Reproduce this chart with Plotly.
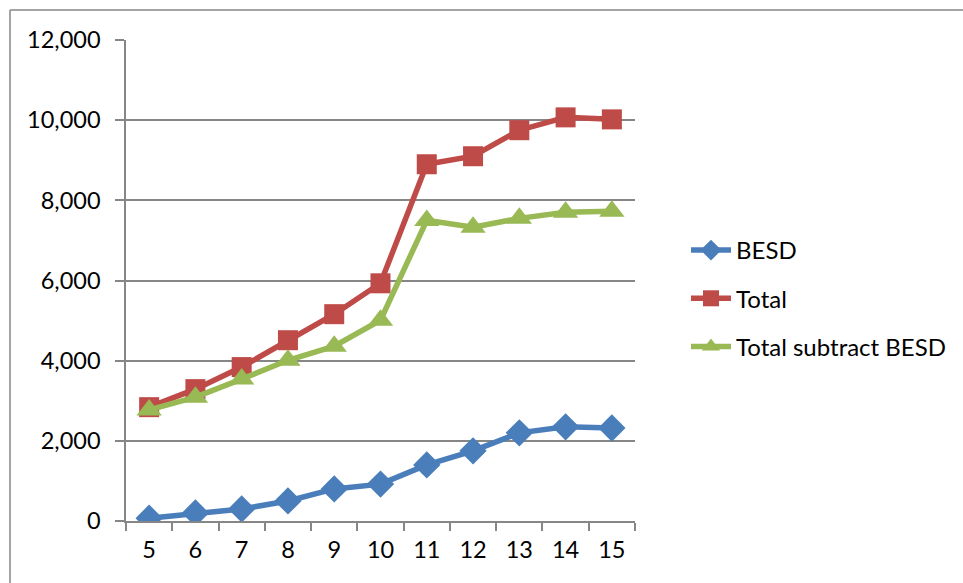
import plotly.graph_objects as go

categories = ["5", "6", "7", "8", "9", "10", "11", "12", "13", "14", "15"]
besd = [70, 200, 300, 500, 800, 920, 1400, 1750, 2200, 2350, 2320]
total = [2840, 3290, 3840, 4510, 5160, 5930, 8900, 9100, 9750, 10070, 10020]
total_sub = [2770, 3090, 3540, 4010, 4360, 5010, 7500, 7330, 7550, 7700, 7730]
y_ticks = [0, 2000, 4000, 6000, 8000, 10000, 12000]

FONT = "Lato"
fig = go.Figure()
fig.add_trace(go.Scatter(x=categories, y=besd, name="BESD", mode="lines+markers",
                         legendgroup="a",
                         line=dict(color="#4A7EBB", width=5.5),
                         marker=dict(symbol="diamond", size=21, color="#4A7EBB")))
fig.add_trace(go.Scatter(x=categories, y=total, name="Total", mode="lines+markers",
                         legendgroup="b",
                         line=dict(color="#BE4B48", width=5.5),
                         marker=dict(symbol="square", size=20, color="#BE4B48")))
fig.add_trace(go.Scatter(x=categories, y=total_sub, name="Total subtract BESD", mode="lines+markers",
                         legendgroup="c",
                         line=dict(color="#98B954", width=5.5),
                         marker=dict(symbol="triangle-up", size=22, color="#98B954")))

W, H = 963, 583
L, R, T, B = 126, 328, 40, 62
pw, ph = W - L - R, H - T - B

def px(x):
    return (x - L) / pw

def py(y):
    return (H - B - y) / ph

fig.update_layout(
    width=W, height=H,
    margin=dict(l=L, r=R, t=T, b=B),
    paper_bgcolor="white", plot_bgcolor="white",
    font=dict(family=FONT, size=23.5, color="#000000"),
    showlegend=True,
    legend=dict(x=px(686), y=py(228), xanchor="left", yanchor="top",
                font=dict(family=FONT, size=24), tracegroupgap=14,
                bgcolor="rgba(0,0,0,0)", itemwidth=40),
    xaxis=dict(type="category", range=[-0.5, 10.5], showgrid=False,
               showline=True, linecolor="#868686", linewidth=1.5,
               ticks="outside", ticklen=8, tickcolor="#868686", tickwidth=1.5,
               tickson="boundaries", ticklabelstandoff=7,
               tickfont=dict(family=FONT, size=23.5)),
    yaxis=dict(range=[0, 12000], tickvals=y_ticks, tickformat=",d",
               showgrid=True, gridcolor="#868686", gridwidth=1.5,
               showline=True, linecolor="#868686", linewidth=1.5,
               ticks="outside", ticklen=9, tickcolor="#868686", tickwidth=1.5,
               ticklabelstandoff=10,
               zeroline=False, tickfont=dict(family=FONT, size=23.5)),
    shapes=[
        dict(type="line", xref="paper", yref="paper", x0=px(10), x1=px(963), y0=py(10), y1=py(10),
             line=dict(color="#868686", width=1.5)),
        dict(type="line", xref="paper", yref="paper", x0=px(10), x1=px(10), y0=py(10), y1=py(583),
             line=dict(color="#868686", width=1.5)),
    ],
)

fig.write_html("out.html", config={"displayModeBar": False},
               post_script="document.body.style.margin='0';document.body.style.overflow='hidden';")
